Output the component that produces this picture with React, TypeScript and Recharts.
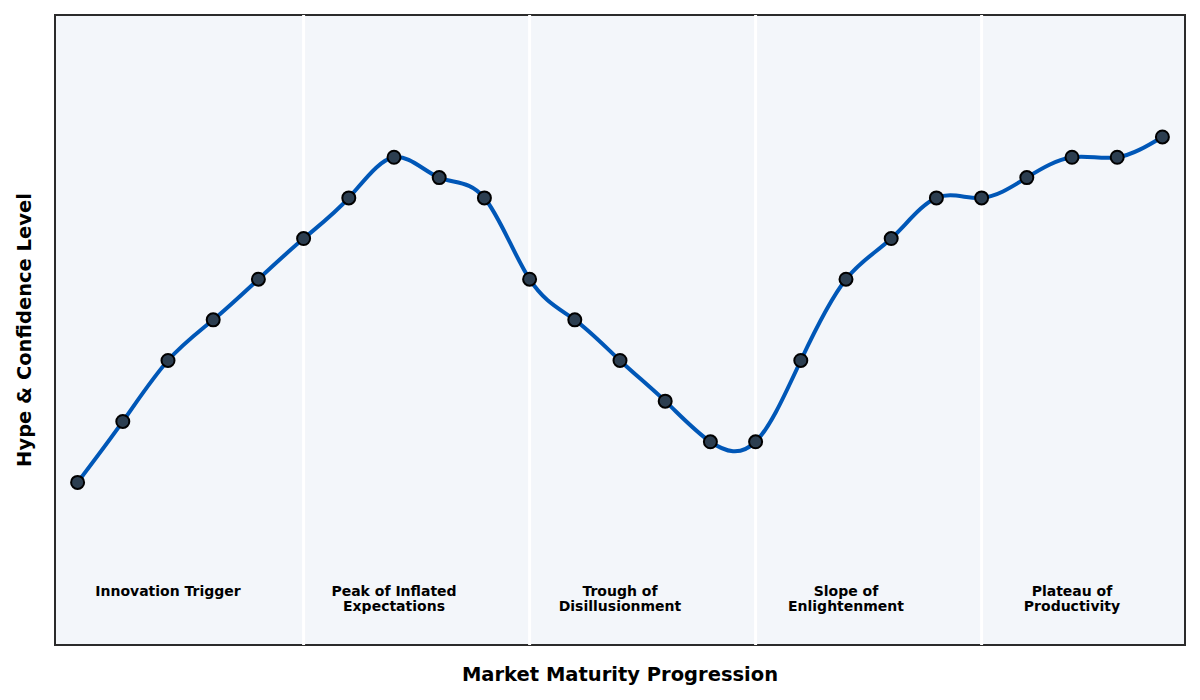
import React from 'react';
import { LineChart, Line, XAxis, YAxis, ReferenceLine, ReferenceArea, ReferenceDot } from 'recharts';

// stage index along the maturity axis
const stages = [0, 1, 2, 3, 4, 5, 6, 7, 8, 9, 10, 11, 12, 13, 14, 15, 16, 17, 18, 19, 20, 21, 22, 23, 24];
const hype = [20, 35, 50, 60, 70, 80, 90, 100, 95, 90, 70, 60, 50, 40, 30, 30, 50, 70, 80, 90, 90, 95, 100, 100, 105];

const phaseBounds = [5, 10, 15, 20];
const phaseCenters = [2, 7, 12, 17, 22];
const phaseNames = [
  ['Innovation Trigger'],
  ['Peak of Inflated', 'Expectations'],
  ['Trough of', 'Disillusionment'],
  ['Slope of', 'Enlightenment'],
  ['Plateau of', 'Productivity'],
];

const FONT = '"DejaVu Sans", sans-serif';
const LABEL_Y = -6.7;

const data = stages.map((s, i) => ({ stage: s, hype: hype[i] }));

const PhaseLabel = (props: any) => {
  const { viewBox, lines } = props;
  const x = viewBox.x + viewBox.width / 2;
  const y = viewBox.y + viewBox.height / 2;
  return (
    <text x={x} y={y} textAnchor="middle" fontFamily={FONT} fontSize={14} fontWeight="bold" fill="#000">
      {lines.map((ln: string, i: number) => (
        <tspan key={i} x={x} y={y + i * 15.5} dominantBaseline="central">
          {ln}
        </tspan>
      ))}
    </text>
  );
};

const App: React.FC = () => {
  return (
    <div style={{ position: 'relative', width: 1192, height: 692, fontFamily: FONT }}>
      <LineChart width={1192} height={692} data={data} margin={{ top: 7, left: 47, right: 15, bottom: 55 }}>
        <XAxis dataKey="stage" type="number" domain={[-0.5, 24.5]} hide />
        <YAxis type="number" domain={[-20, 135]} hide />
        <ReferenceArea x1={-0.5} x2={24.5} y1={-20} y2={135} fill="#f3f6fa" fillOpacity={1} stroke="none" />
        {phaseBounds.map((b) => (
          <ReferenceLine key={b} x={b} stroke="#ffffff" strokeWidth={3} />
        ))}
        <ReferenceArea x1={-0.5} x2={24.5} y1={-20} y2={135} fill="none" stroke="#2b2b2b" strokeWidth={2} />
        <Line
          type="natural"
          dataKey="hype"
          stroke="#0057b7"
          strokeWidth={4}
          dot={{ r: 6.5, fill: '#2c3e50', stroke: '#000', strokeWidth: 2 }}
          activeDot={false}
          isAnimationActive={false}
        />
        {phaseCenters.map((c, i) => (
          <ReferenceDot
            key={c}
            x={c}
            y={LABEL_Y}
            r={0}
            fill="none"
            stroke="none"
            label={(p: any) => <PhaseLabel {...p} lines={phaseNames[i]} />}
          />
        ))}
      </LineChart>
      <div
        style={{
          position: 'absolute',
          left: 47,
          width: 1130,
          top: 655,
          textAlign: 'center',
          fontSize: 19.5,
          fontWeight: 'bold',
          color: '#000',
        }}
      >
        Market Maturity Progression
      </div>
      <div
        style={{
          position: 'absolute',
          left: 16,
          top: 322,
          width: 0,
          height: 0,
        }}
      >
        <div
          style={{
            position: 'absolute',
            transform: 'translate(-50%, -50%) rotate(-90deg)',
            whiteSpace: 'nowrap',
            fontSize: 19.5,
            fontWeight: 'bold',
            color: '#000',
          }}
        >
          Hype &amp; Confidence Level
        </div>
      </div>
    </div>
  );
};

export default App;
